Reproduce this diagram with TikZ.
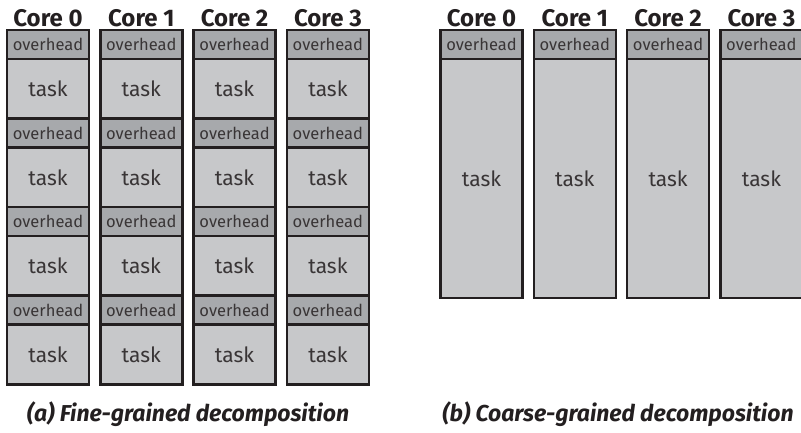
\documentclass[tikz,border=0pt]{standalone}
\usepackage{fontspec}
\setmainfont{Fira Sans}
\usetikzlibrary{positioning}

\definecolor{linea}{HTML}{231F20}
\definecolor{grisoscuro}{HTML}{A7A9AC}
\definecolor{grisclaro}{HTML}{C7C8CA}

\tikzset{
    celda/.style={draw=linea, line width=2.5pt, minimum width=82pt, inner sep=0pt,
        outer sep=0pt, anchor=north west, text=linea!90},
    sobrecarga/.style={celda, fill=grisoscuro, minimum height=29pt,
        font=\fontsize{16.5}{16.5}\selectfont},
    tarea/.style={celda, fill=grisclaro, font=\fontsize{21}{21}\selectfont},
    nucleo/.style={font=\bfseries\fontsize{24}{24}\selectfont, text=linea},
    pie/.style={font=\bfseries\itshape\fontsize{23}{23}\selectfont, text=linea}
}

\begin{document}
\begin{tikzpicture}[x=1pt, y=-1pt]
    \clip (0,0) rectangle (801,432);

    % Grano fino
    \foreach \i in {0,...,3} {
        \foreach \j in {0,...,3} {
            \node[sobrecarga] (fo\i\j) at ({7+93.3*\i},{30+88.5*\j}) {overhead};
            \node[tarea, minimum height=60pt, below=0pt of fo\i\j] (ft\i\j) {task};
        }
        \node[nucleo, above=0pt of fo\i0] (fn\i) {Core \i};
    }

    % Grano grueso
    \foreach \i in {0,...,3} {
        \node[sobrecarga] (co\i) at ({440.5+93.3*\i},30) {overhead};
        \node[tarea, minimum height=239pt, below=0pt of co\i] (ct\i) {task};
        \node[nucleo, above=0pt of co\i] (cn\i) {Core \i};
    }

    % Pies
    \node[pie] (pa) at (188,414) {(a) Fine-grained decomposition};
    \node[pie] (pb) at (618,414) {(b) Coarse-grained decomposition};
\end{tikzpicture}
\end{document}
